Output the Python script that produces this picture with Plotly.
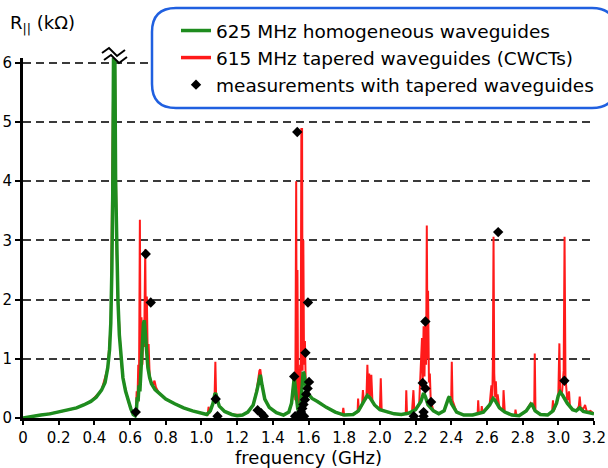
import plotly.graph_objects as go

# ---------------- data ----------------
green_freq = [0.00, 0.05, 0.10, 0.15, 0.20, 0.25, 0.30, 0.34, 0.38, 0.41, 0.44, 0.46, 0.475, 0.485,
              0.492, 0.498, 0.503, 0.508, 0.514, 0.519, 0.525, 0.532, 0.54, 0.55, 0.56, 0.575, 0.59,
              0.605, 0.618, 0.628, 0.635, 0.640, 0.645, 0.650, 0.655, 0.662, 0.668, 0.675, 0.680,
              0.685, 0.69, 0.70, 0.71, 0.72, 0.74, 0.76, 0.80, 0.85, 0.90, 0.95, 1.00, 1.03, 1.05,
              1.065, 1.075, 1.08, 1.09, 1.10, 1.13, 1.17, 1.20, 1.23, 1.26, 1.29, 1.31, 1.325, 1.33,
              1.34, 1.355, 1.38, 1.42, 1.46, 1.49, 1.505, 1.515, 1.52, 1.53, 1.54, 1.548, 1.555,
              1.562, 1.57, 1.575, 1.585, 1.60, 1.62, 1.65, 1.70, 1.75, 1.80, 1.85, 1.88, 1.91, 1.93,
              1.945, 1.97, 2.00, 2.04, 2.08, 2.12, 2.16, 2.20, 2.23, 2.245, 2.255, 2.27, 2.30, 2.33,
              2.36, 2.385, 2.39, 2.40, 2.43, 2.47, 2.52, 2.58, 2.615, 2.635, 2.645, 2.67, 2.70, 2.74,
              2.78, 2.82, 2.845, 2.85, 2.87, 2.90, 2.94, 2.97, 2.99, 3.00, 3.01, 3.025, 3.05, 3.08,
              3.10, 3.12, 3.14, 3.17, 3.20]
green_r = [0.00, 0.03, 0.05, 0.07, 0.10, 0.13, 0.17, 0.22, 0.28, 0.35, 0.47, 0.60, 0.85, 1.15,
           1.6, 2.5, 3.8, 6.5, 6.5, 4.0, 2.8, 2.0, 1.4, 0.95, 0.68, 0.45, 0.28,
           0.15, 0.06, 0.04, 0.12, 0.35, 0.28, 0.55, 0.45, 0.9, 1.3, 1.6, 1.65,
           1.45, 1.15, 0.85, 0.68, 0.58, 0.48, 0.42, 0.32, 0.24, 0.17, 0.12, 0.08, 0.06, 0.12,
           0.25, 0.40, 0.42, 0.30, 0.20, 0.11, 0.06, 0.04, 0.05, 0.10, 0.22, 0.45, 0.72, 0.73,
           0.55, 0.32, 0.18, 0.09, 0.05, 0.10, 0.25, 0.55, 0.68, 0.40, 0.15, 0.10, 0.20,
           0.45, 0.78, 0.75, 0.55, 0.40, 0.33, 0.28, 0.18, 0.10, 0.05, 0.06, 0.12, 0.28, 0.38,
           0.34, 0.22, 0.14, 0.10, 0.07, 0.06, 0.08, 0.14, 0.28, 0.42, 0.36, 0.22, 0.12, 0.07,
           0.12, 0.34, 0.36, 0.25, 0.10, 0.05, 0.05, 0.10, 0.22, 0.33, 0.30, 0.17, 0.10, 0.05,
           0.04, 0.12, 0.25, 0.25, 0.12, 0.06, 0.05, 0.12, 0.25, 0.38, 0.44, 0.38, 0.25, 0.14,
           0.12, 0.17, 0.11, 0.09, 0.07]

red_freq = [0.00, 0.10, 0.20, 0.30, 0.38, 0.44, 0.475, 0.492, 0.500, 0.508, 0.514, 0.519, 0.525,
            0.532, 0.54, 0.55, 0.56, 0.575, 0.59, 0.605, 0.62, 0.632, 0.637, 0.641, 0.646, 0.650,
            0.655, 0.659, 0.664, 0.669, 0.674, 0.679, 0.685, 0.689, 0.694, 0.699, 0.704, 0.71,
            0.72, 0.73, 0.737, 0.745, 0.76, 0.80, 0.85, 0.90, 0.95, 1.00, 1.035, 1.04, 1.045,
            1.065, 1.074, 1.078, 1.082, 1.09, 1.10, 1.13, 1.17, 1.23, 1.26, 1.29, 1.31, 1.325,
            1.33, 1.34, 1.355, 1.38, 1.42, 1.46, 1.49, 1.505, 1.515, 1.52, 1.526, 1.531, 1.534,
            1.538, 1.542, 1.548, 1.553, 1.556, 1.560, 1.564, 1.567, 1.571, 1.575, 1.58, 1.585,
            1.59, 1.60, 1.62, 1.65, 1.70, 1.75, 1.79, 1.795, 1.80, 1.85, 1.875, 1.878, 1.882,
            1.90, 1.905, 1.91, 1.925, 1.93, 1.935, 1.94, 1.945, 1.952, 1.958, 1.97, 2.00, 2.005,
            2.01, 2.04, 2.08, 2.12, 2.145, 2.148, 2.152, 2.18, 2.188, 2.193, 2.20, 2.22, 2.236,
            2.24, 2.245, 2.25, 2.255, 2.259, 2.263, 2.267, 2.27, 2.275, 2.28, 2.285, 2.30, 2.33,
            2.36, 2.385, 2.40, 2.403, 2.407, 2.43, 2.47, 2.52, 2.548, 2.551, 2.555, 2.568, 2.571,
            2.575, 2.60, 2.615, 2.625, 2.63, 2.633, 2.637, 2.641, 2.646, 2.65, 2.655, 2.66, 2.67,
            2.69, 2.693, 2.697, 2.70, 2.74, 2.757, 2.76, 2.765, 2.78, 2.82, 2.845, 2.865, 2.868,
            2.872, 2.90, 2.94, 2.965, 2.97, 2.975, 2.99, 3.00, 3.006, 3.01, 3.02, 3.03, 3.035,
            3.04, 3.045, 3.05, 3.06, 3.065, 3.08, 3.10, 3.115, 3.12, 3.125, 3.14, 3.15, 3.16,
            3.18, 3.20]
red_r = [0.00, 0.05, 0.10, 0.17, 0.28, 0.47, 0.85, 1.6, 3.6, 6.5, 6.5, 4.0, 2.8,
         2.0, 1.4, 0.95, 0.68, 0.45, 0.28, 0.15, 0.05, 0.05, 0.45, 0.25, 0.9, 0.45,
         3.35, 0.9, 1.7, 0.9, 1.5, 1.2, 2.85, 1.4, 2.05, 1.0, 1.25, 0.7,
         0.6, 0.58, 0.63, 0.52, 0.43, 0.32, 0.24, 0.17, 0.12, 0.08, 0.06, 0.19, 0.08,
         0.25, 0.40, 0.95, 0.40, 0.30, 0.20, 0.11, 0.06, 0.05, 0.10, 0.22, 0.48, 0.80,
         0.82, 0.56, 0.32, 0.18, 0.09, 0.05, 0.10, 0.25, 0.60, 0.72, 0.30, 4.00, 0.50,
         2.50, 0.30, 0.15, 0.9, 0.3, 4.88, 4.88, 0.8, 3.00, 0.9, 1.3, 0.5,
         0.45, 0.40, 0.33, 0.28, 0.18, 0.10, 0.05, 0.17, 0.05, 0.06, 0.10, 0.33, 0.12,
         0.22, 0.47, 0.28, 0.38, 0.90, 0.40, 0.75, 0.35, 0.73, 0.30, 0.22, 0.14, 0.67,
         0.14, 0.10, 0.07, 0.06, 0.07, 0.47, 0.07, 0.10, 0.47, 0.12, 0.14, 0.22, 1.35,
         0.6, 1.55, 0.7, 1.65, 0.9, 3.25, 1.0, 2.15, 0.6, 0.75, 0.3, 0.12, 0.07,
         0.12, 0.34, 0.36, 0.95, 0.30, 0.10, 0.05, 0.05, 0.08, 0.30, 0.08, 0.09, 0.20,
         0.10, 0.15, 0.22, 0.55, 0.30, 0.90, 3.06, 0.75, 0.35, 0.62, 0.25, 0.40, 0.17,
         0.12, 0.47, 0.11, 0.10, 0.05, 0.05, 0.14, 0.05, 0.04, 0.12, 0.25, 0.15, 1.09,
         0.13, 0.06, 0.05, 0.10, 0.30, 0.12, 0.25, 0.38, 1.26, 0.45, 0.40, 0.80, 3.06,
         0.70, 0.55, 0.30, 0.45, 0.20, 0.14, 0.12, 0.20, 0.36, 0.18, 0.15, 0.22, 0.10,
         0.12, 0.07]

meas_freq = [0.632, 0.688, 0.716, 1.08, 1.09, 1.315, 1.335, 1.35, 1.52, 1.525, 1.537, 1.583,
             1.597, 1.603, 1.595, 1.587, 1.580, 1.572, 1.565, 1.558, 1.55, 1.54, 1.575, 1.56,
             2.19, 2.24, 2.245, 2.245, 2.255, 2.255, 2.287, 2.663, 3.034]
meas_r = [0.10, 2.77, 1.95, 0.32, 0.03, 0.13, 0.08, 0.03, 0.70, 0.03, 4.83, 1.10,
          1.95, 0.61, 0.50, 0.40, 0.31, 0.23, 0.16, 0.10, 0.05, 0.02, 0.03, 0.01,
          0.03, 0.59, 0.10, 0.03, 0.50, 1.63, 0.27, 3.14, 0.63]

x_ticks = [0, 0.2, 0.4, 0.6, 0.8, 1.0, 1.2, 1.4, 1.6, 1.8, 2.0, 2.2, 2.4, 2.6, 2.8, 3.0, 3.2]
x_tick_labels = ["0", "0.2", "0.4", "0.6", "0.8", "1.0", "1.2", "1.4", "1.6", "1.8",
                 "2.0", "2.2", "2.4", "2.6", "2.8", "3.0", "3.2"]
y_ticks = [0, 1, 2, 3, 4, 5, 6]
y_tick_labels = ["0", "1", "2", "3", "4", "5", "6"]

series_names = ["625 MHz homogeneous waveguides",
                "615 MHz tapered waveguides (CWCTs)",
                "measurements with tapered waveguides"]

# ---------------- layout helpers ----------------
W, H = 608, 468
L, R, T, B = 23, 14, 58, 50
PW, PH = W - L - R, H - T - B
FONT = "DejaVu Sans"


def px(x):
    return (x - L) / PW


def py(y):
    return (H - B - y) / PH


GREEN = "#1e8c1e"
RED = "#ff1a1a"
BLUE = "#2060e0"

fig = go.Figure()
fig.add_trace(go.Scatter(x=red_freq, y=red_r, mode="lines", name=series_names[1],
                         line=dict(color=RED, width=2), showlegend=False, legendgroup="b"))
fig.add_trace(go.Scatter(x=green_freq, y=green_r, mode="lines", name=series_names[0],
                         line=dict(color=GREEN, width=3.5), legendrank=1, legendgroup="a"))
# legend entry for the red series (drawn with the same thickness as in the reference key)
fig.add_trace(go.Scatter(x=[None], y=[None], mode="lines", name=series_names[1],
                         line=dict(color=RED, width=3.5), legendrank=2, legendgroup="b"))
fig.add_trace(go.Scatter(x=meas_freq, y=meas_r, mode="markers", name=series_names[2],
                         marker=dict(symbol="diamond", size=8, color="black"),
                         legendrank=3, legendgroup="c"))

# rounded legend box
bx0, by0, bx1, by1, rad = 152, 8, 616, 108, 24
path = (f"M {px(bx0 + rad)},{py(by0)} L {px(bx1 - rad)},{py(by0)} "
        f"Q {px(bx1)},{py(by0)} {px(bx1)},{py(by0 + rad)} "
        f"L {px(bx1)},{py(by1 - rad)} Q {px(bx1)},{py(by1)} {px(bx1 - rad)},{py(by1)} "
        f"L {px(bx0 + rad)},{py(by1)} Q {px(bx0)},{py(by1)} {px(bx0)},{py(by1 - rad)} "
        f"L {px(bx0)},{py(by0 + rad)} Q {px(bx0)},{py(by0)} {px(bx0 + rad)},{py(by0)} Z")
shapes = [dict(type="path", xref="paper", yref="paper", path=path,
               line=dict(color=BLUE, width=2.5), fillcolor="white", layer="above")]

# axis break symbol on the clipped peak
zz1 = [(102, 53), (109, 48), (117, 56), (125, 50)]
zz2 = [(104, 60), (111, 55), (119, 63), (127, 57)]
poly = zz1 + zz2[::-1]
shapes.append(dict(type="path", xref="paper", yref="paper",
                   path="M " + " L ".join(f"{px(a)},{py(b)}" for a, b in poly) + " Z",
                   line=dict(width=0), fillcolor="white", layer="above"))
for zz in (zz1, zz2):
    shapes.append(dict(type="path", xref="paper", yref="paper",
                       path="M " + " L ".join(f"{px(a)},{py(b)}" for a, b in zz),
                       line=dict(color="black", width=2), layer="above"))

fig.update_layout(
    width=W, height=H,
    margin=dict(l=L, r=R, t=T, b=B, pad=0, autoexpand=False),
    paper_bgcolor="white", plot_bgcolor="white",
    font=dict(family=FONT, size=15, color="black"),
    showlegend=True,
    legend=dict(x=px(176), y=py(12), xanchor="left", yanchor="top",
                bgcolor="rgba(0,0,0,0)", borderwidth=0,
                font=dict(family=FONT, size=18.5, color="black"),
                traceorder="grouped", tracegroupgap=0),
    shapes=shapes,
    xaxis=dict(range=[0, 3.2], tickmode="array", tickvals=x_ticks, ticktext=x_tick_labels,
               automargin=False,
               showgrid=False, zeroline=False, showline=True, linecolor="black", linewidth=3,
               ticks="outside", ticklen=4, tickwidth=1.5, tickcolor="black",
               tickfont=dict(family=FONT, size=15),
               title=dict(text="frequency (GHz)", font=dict(family=FONT, size=18), standoff=4)),
    yaxis=dict(range=[0, 6.08], tickmode="array", tickvals=y_ticks, ticktext=y_tick_labels,
               automargin=False,
               showgrid=True, gridcolor="#3a3a3a", gridwidth=1.5, griddash="8px,5px",
               zeroline=False, showline=True, linecolor="black", linewidth=3,
               ticks="outside", ticklen=5, tickwidth=1.5, tickcolor="black",
               tickfont=dict(family=FONT, size=15)),
    annotations=[dict(text="R<sub>||</sub> (kΩ)", xref="paper", yref="paper",
                      x=px(8), y=py(24), xanchor="left", yanchor="middle", showarrow=False,
                      font=dict(family=FONT, size=18))],
)

fig.write_html("out.html", config={"displayModeBar": False},
               post_script="document.body.style.margin='0px';document.body.style.overflow='hidden';")
